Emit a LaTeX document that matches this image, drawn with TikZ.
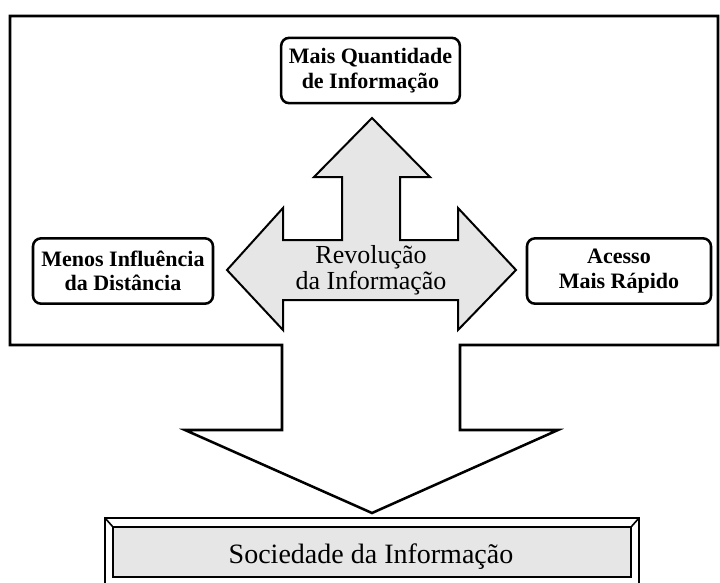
\documentclass[tikz,border=0pt]{standalone}
\usepackage{fontspec}
\setmainfont{Liberation Serif}
\definecolor{arrowgray}{RGB}{230,230,230}
\begin{document}
\begin{tikzpicture}[x=0.75pt,y=-0.75pt,line join=miter,
  infobox/.style={draw=black, line width=1.9pt, rounded corners=6pt, fill=white,
    minimum width=135pt, minimum height=49pt, align=center, inner sep=0pt,
    font=\fontsize{16.5}{18.5}\selectfont\bfseries},
  bigarrow/.style={draw=black, line width=1.5pt, fill=arrowgray},
  frameline/.style={draw=black, line width=1.9pt}]
\useasboundingbox (0,0) rectangle (720,582);

% outer frame joined with the big down arrow
\draw[frameline, fill=white] (10,16) -- (718,16) -- (718,345) -- (460,345) -- (460,430)
  -- (558,430) -- (372,513) -- (185,430) -- (282,430) -- (282,345) -- (10,345) -- cycle;

% central three-way arrow
\draw[bigarrow] (372,118) -- (430,177) -- (400,177) -- (400,240) -- (458,240) -- (458,208)
  -- (516,270) -- (458,330) -- (458,300) -- (283,300) -- (283,330) -- (227,270)
  -- (283,208) -- (283,240) -- (342,240) -- (342,177) -- (314,177) -- cycle;
\node[align=center, font=\fontsize{19.5}{19.5}\selectfont] (rev) at (371,270)
  {Revolução\\da Informação};

% boxes
\node[infobox, minimum width=134pt] (top) at (370.5,70.5) {Mais Quantidade\\de Informação};
\node[infobox] (left) at (123,271) {Menos Influência\\da Distância};
\node[infobox, minimum width=138pt] (right) at (619,271) {Acesso\\Mais Rápido};

% bottom bevelled box
\draw[line width=1.5pt, fill=white] (105,518) rectangle (639,592);
\draw[line width=1.5pt, fill=arrowgray] (113,527) rectangle (631,577);
\draw[line width=1.2pt] (105,518) -- (113,527) (639,518) -- (631,527);
\node[anchor=base, font=\fontsize{21}{24}\selectfont, inner sep=0pt] (soc) at (371,563)
  {Sociedade da Informação};
\end{tikzpicture}
\end{document}
